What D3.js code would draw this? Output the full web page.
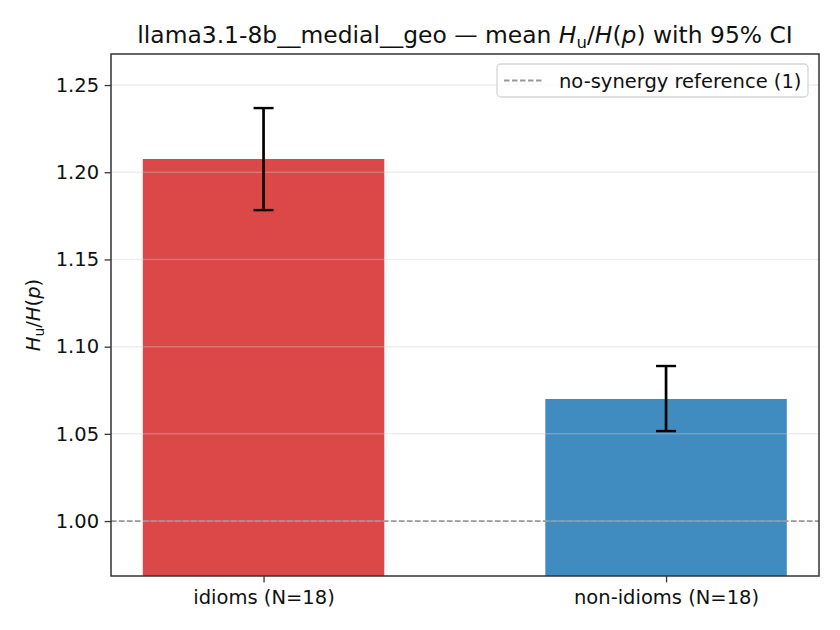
<!DOCTYPE html>
<html>
<head>
<meta charset="utf-8">
<script src="https://cdn.jsdelivr.net/npm/d3@7"></script>
<style>
  html, body { margin: 0; padding: 0; background: #fff; }
  svg { display: block; font-family: "DejaVu Sans", sans-serif; }
</style>
</head>
<body>
<svg id="chart" width="840" height="630"></svg>
<script>
// ---- data ----
const categories = ["idioms (N=18)", "non-idioms (N=18)"];
const means = [1.2076, 1.0700];
const ciLow = [1.1783, 1.0516];
const ciHigh = [1.2368, 1.0889];
const barColors = ["#dc4748", "#408bbf"];
const yTicks = [1.00, 1.05, 1.10, 1.15, 1.20, 1.25];
const referenceValue = 1;
const legendLabel = "no-synergy reference (1)";

// ---- layout ----
const W = 840, H = 630;
const m = { left: 111, right: 21, top: 54, bottom: 54 };
const pw = W - m.left - m.right;
const ph = H - m.top - m.bottom;
const barWidth = 0.6;

const svg = d3.select("#chart");

const x = d3.scaleLinear().domain([-0.379, 1.38]).range([m.left, m.left + pw]);
const y = d3.scaleLinear().domain([0.9685, 1.2678]).range([m.top + ph, m.top]);

const g = svg.append("g");

// bars
g.selectAll("rect.bar").data(categories).enter().append("rect")
  .attr("class", "bar")
  .attr("x", (d, i) => x(i - barWidth / 2))
  .attr("width", (d, i) => x(i + barWidth / 2) - x(i - barWidth / 2))
  .attr("y", (d, i) => y(means[i]))
  .attr("height", (d, i) => y.range()[0] - y(means[i]))
  .attr("fill", (d, i) => barColors[i]);

// grid on top
g.selectAll("line.grid").data(yTicks).enter().append("line")
  .attr("class", "grid")
  .attr("x1", m.left).attr("x2", m.left + pw)
  .attr("y1", d => y(d)).attr("y2", d => y(d))
  .attr("stroke", "#cccccc").attr("stroke-opacity", 0.35).attr("stroke-width", 1.5);

// reference line
g.append("line")
  .attr("x1", m.left).attr("x2", m.left + pw)
  .attr("y1", y(referenceValue)).attr("y2", y(referenceValue))
  .attr("stroke", "#999999").attr("stroke-width", 1.8)
  .attr("stroke-dasharray", "5.5,2.5");

// error bars
const capHalf = 10;
categories.forEach((c, i) => {
  const cx = x(i);
  g.append("line").attr("x1", cx).attr("x2", cx)
    .attr("y1", y(ciLow[i])).attr("y2", y(ciHigh[i]))
    .attr("stroke", "#000").attr("stroke-width", 2.7);
  [ciLow[i], ciHigh[i]].forEach(v => {
    g.append("line").attr("x1", cx - capHalf).attr("x2", cx + capHalf)
      .attr("y1", y(v)).attr("y2", y(v))
      .attr("stroke", "#000").attr("stroke-width", 2.4);
  });
});

// axes
const yAxis = d3.axisLeft(y).tickValues(yTicks).tickFormat(d3.format(".2f")).tickSize(6.4).tickPadding(5.5);
const xAxis = d3.axisBottom(x).tickValues(categories.map((c, i) => i))
  .tickFormat(i => categories[i]).tickSize(6.4).tickPadding(8);

const ya = svg.append("g").attr("transform", `translate(${m.left},0)`).call(yAxis);
const xa = svg.append("g").attr("transform", `translate(0,${m.top + ph})`).call(xAxis);
[ya, xa].forEach(a => {
  a.select(".domain").remove();
  a.selectAll(".tick line").attr("stroke", "#333").attr("stroke-width", 1.3);
  a.selectAll(".tick text").attr("fill", "#111").style("font-size", "19.5px").style("font-family", "DejaVu Sans");
});

// frame
svg.append("rect")
  .attr("x", m.left).attr("y", m.top).attr("width", pw).attr("height", ph)
  .attr("fill", "none").attr("stroke", "#333").attr("stroke-width", 1.5);

// title
const title = svg.append("text")
  .attr("x", m.left + pw / 2).attr("y", 43)
  .attr("text-anchor", "middle")
  .style("font-size", "23.4px").attr("fill", "#111");
title.append("tspan").text("llama3.1-8b__medial__geo — mean ");
title.append("tspan").style("font-style", "italic").text("H");
title.append("tspan").attr("dy", 4.5).style("font-size", "16.5px").text("u");
title.append("tspan").attr("dy", -4.5).text("/");
title.append("tspan").style("font-style", "italic").text("H");
title.append("tspan").text("(");
title.append("tspan").style("font-style", "italic").text("p");
title.append("tspan").text(") with 95% CI");

// y label
const yl = svg.append("text")
  .attr("transform", `translate(40,${m.top + ph / 2}) rotate(-90)`)
  .attr("text-anchor", "middle")
  .style("font-size", "19.5px").attr("fill", "#111");
yl.append("tspan").style("font-style", "italic").text("H");
yl.append("tspan").attr("dy", 4).style("font-size", "13.8px").text("u");
yl.append("tspan").attr("dy", -4).text("/");
yl.append("tspan").style("font-style", "italic").text("H");
yl.append("tspan").text("(");
yl.append("tspan").style("font-style", "italic").text("p");
yl.append("tspan").text(")");

// legend
const lg = svg.append("g");
lg.append("rect")
  .attr("x", 497).attr("y", 64).attr("width", 311).attr("height", 33)
  .attr("rx", 4).attr("ry", 4)
  .attr("fill", "#fff").attr("fill-opacity", 0.8)
  .attr("stroke", "#d6d6d6").attr("stroke-width", 1.3);
lg.append("line")
  .attr("x1", 504).attr("x2", 543).attr("y1", 80.5).attr("y2", 80.5)
  .attr("stroke", "#999999").attr("stroke-width", 1.8).attr("stroke-dasharray", "5.5,2.5");
lg.append("text")
  .attr("x", 559).attr("y", 87.5)
  .style("font-size", "19.5px").attr("fill", "#111")
  .text(legendLabel);
</script>
</body>
</html>
